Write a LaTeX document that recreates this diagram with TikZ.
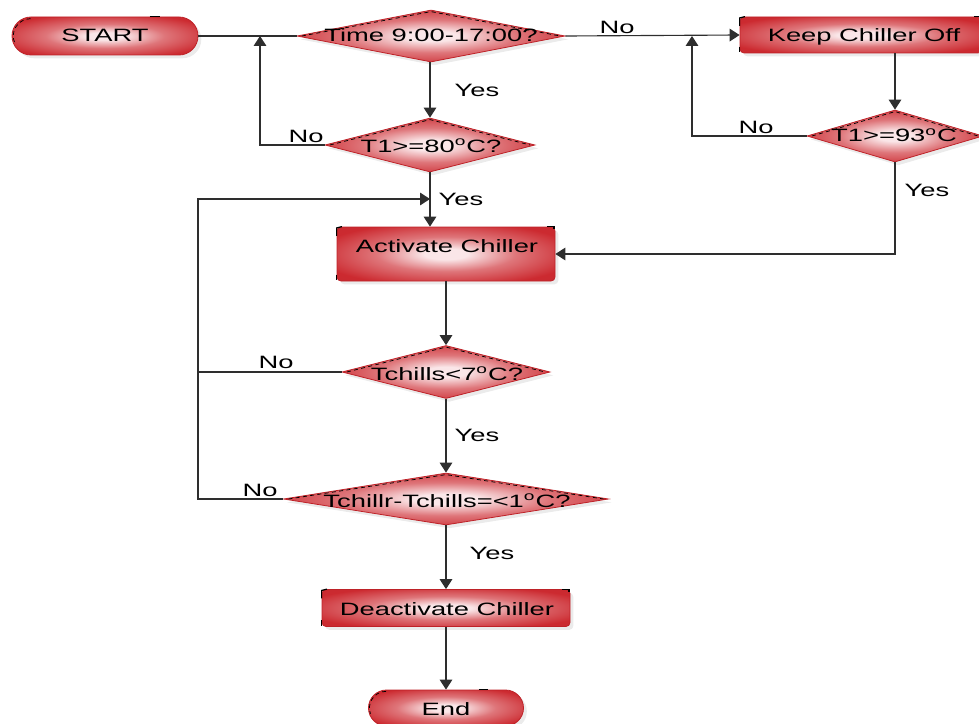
\documentclass[tikz,border=0pt]{standalone}
\usepackage{graphicx}
\usepackage{fontspec}
\setmainfont{Liberation Sans}
\usetikzlibrary{shapes.geometric,shapes.misc,shadows,arrows.meta}

\definecolor{redc}{RGB}{204,42,48}
\definecolor{glowc}{RGB}{250,230,232}
\definecolor{redline}{RGB}{190,34,40}

% red-to-pink glow used inside every flowchart shape
\pgfdeclareradialshading{redglow}{\pgfpoint{0bp}{0bp}}{%
  color(0bp)=(glowc); color(5bp)=(glowc); color(16bp)=(redc!60!glowc);
  color(30bp)=(redc); color(50bp)=(redc!94!black); color(72bp)=(redc!94!black)}

% wide sans-serif lettering
\newcommand{\wtxt}[1]{\scalebox{1.53}[1]{#1}}

\tikzset{
  flowbase/.style={draw=redline, line width=0.6pt, shading=redglow,
    drop shadow={opacity=0.16, shadow xshift=2.5pt, shadow yshift=-2.5pt}},
  termbox/.style={flowbase, rounded rectangle, inner sep=0pt},
  procbox/.style={flowbase, rectangle, rounded corners=3pt, inner sep=0pt},
  decbox/.style={flowbase, diamond, inner sep=0pt},
  txt/.style={inner sep=0pt, font=\fontsize{13.4}{15}\selectfont},
  stxt/.style={txt, anchor=base},
  corner/.style={draw=black, line width=0.9pt},
  rim/.style={draw=black, line width=0.55pt, dash pattern=on 3pt off 2.5pt},
  conn/.style={draw=black!82, line width=0.85pt},
  arr/.style={conn, -{Triangle[length=7.5pt, width=9.5pt]}},
}

\begin{document}
\begin{tikzpicture}[x=0.75pt, y=-0.75pt]
\useasboundingbox (0,0) rectangle (979,724);
\clip (0,0) rectangle (979,724);

% ---- shapes ----
\node[termbox, minimum width=139.5pt, minimum height=28.5pt] (start) at (105,36) {};
\node[decbox, minimum width=201pt, minimum height=39pt] (time) at (431,36) {};
\node[decbox, minimum width=157.5pt, minimum height=40.5pt] (t80) at (430,145) {};
\node[procbox, minimum width=181.5pt, minimum height=27pt] (keep) at (861,35) {};
\node[decbox, minimum width=132pt, minimum height=39pt] (t93) at (895,136) {};
\node[procbox, minimum width=163.5pt, minimum height=40.5pt] (act) at (446,254) {};
\node[decbox, minimum width=156pt, minimum height=39.75pt] (tch) at (446,372) {};
\node[decbox, minimum width=243.75pt, minimum height=39pt] (tcr) at (446,499) {};
\node[procbox, minimum width=186pt, minimum height=27.75pt] (deact) at (446,608) {};
\node[termbox, minimum width=116.25pt, minimum height=27pt] (end) at (446,708) {};

% ---- black rim marks on the shapes ----
\foreach \d in {time,t80,t93,tch,tcr}{
  \draw[rim] ([xshift=4pt]\d.west) -- ([yshift=-1.5pt]\d.north) -- ([xshift=-4pt]\d.east);
}
\foreach \b in {keep,act,deact}{
  \draw[corner] ([yshift=-7pt]\b.north west) -- ([yshift=-1pt]\b.north west)
                 -- ([xshift=4pt]\b.north west);
  \draw[corner] ([yshift=5pt]\b.south west) -- ([yshift=1pt]\b.south west);
  \draw[corner] ([xshift=-6pt]\b.north east) -- ([xshift=-1pt]\b.north east)
                 -- ([xshift=-1pt,yshift=-2pt]\b.north east);
}
\draw[rim] ([xshift=14.25pt,yshift=13pt]start.west)
  arc[start angle=90, end angle=205, radius=13pt];
\draw[corner] ([xshift=-22pt]start.north east) -- ([xshift=-14pt]start.north east);
\draw[rim] ([xshift=13.5pt,yshift=12.5pt]end.west)
  arc[start angle=90, end angle=200, radius=12.5pt];
\draw[corner] ([xshift=-20pt]end.north east) -- ([xshift=-13pt]end.north east);

% ---- shape texts ----
\node[stxt] (startT) at (105,42) {\wtxt{START}};
\node[stxt] (timeT) at (431,42) {\wtxt{Time 9:00-17:00?}};
\node[stxt] (t80T) at (431,152) {\wtxt{T1>=80\textsuperscript{o}C?}};
\node[stxt] (keepT) at (864,42) {\wtxt{Keep Chiller Off}};
\node[stxt] (t93T) at (894,142) {\wtxt{T1>=93\textsuperscript{o}C}};
\node[stxt] (actT) at (447,252) {\wtxt{Activate Chiller}};
\node[stxt] (tchT) at (447,380) {\wtxt{Tchills<7\textsuperscript{o}C?}};
\node[stxt] (tcrT) at (447,507) {\wtxt{Tchillr-Tchills=<1\textsuperscript{o}C?}};
\node[stxt] (deactT) at (447,615) {\wtxt{Deactivate Chiller}};
\node[stxt] (endT) at (446,715) {\wtxt{End}};

% ---- junction points ----
\coordinate (j1) at (260,36);
\coordinate (j2) at (692,36);
\coordinate (lx) at (198,199);
\coordinate (j3) at (430,199);

% ---- connectors ----
\draw[conn] (start.east) -- (time.west);
\draw[arr] (t80.north |- time.south) -- (t80.north);
\draw[arr] (t80.west) -| (j1);
\draw[arr] (time.east) -- (keep.west);
\draw[arr] (t93.north |- keep.south) -- (t93.north);
\draw[arr] (t93.west) -| (j2);
\draw[arr] (t93.south) |- (act.east);
\draw[arr] (t80.south) -- (t80.south |- act.north);
\draw[conn] (tcr.west) -| (lx);
\draw[arr] (tch.west) -| (lx) -- (j3);
\draw[arr] (act.south) -- (tch.north);
\draw[arr] (tch.south) -- (tcr.north);
\draw[arr] (tcr.south) -- (deact.north);
\draw[arr] (deact.south) -- (end.north);

% ---- branch labels ----
\node[txt] (y1) at (477,90) {\wtxt{Yes}};
\node[txt] (n1) at (306,136) {\wtxt{No}};
\node[txt] (y2) at (461,199) {\wtxt{Yes}};
\node[txt] (n2) at (617,27) {\wtxt{No}};
\node[txt] (n3) at (756,127) {\wtxt{No}};
\node[txt] (y3) at (927,190) {\wtxt{Yes}};
\node[txt] (n4) at (276,362) {\wtxt{No}};
\node[txt] (y4) at (477,435) {\wtxt{Yes}};
\node[txt] (n5) at (260,490) {\wtxt{No}};
\node[txt] (y5) at (492,553) {\wtxt{Yes}};
\end{tikzpicture}
\end{document}
